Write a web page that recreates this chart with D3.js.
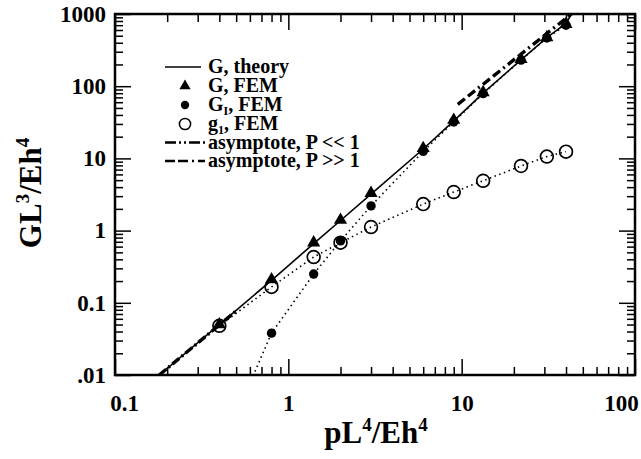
<!DOCTYPE html>
<meta charset="utf-8">
<html>
<head>
<style>
  body { margin: 0; background: #fff; }
  svg text { font-family: 'Liberation Serif', 'Times New Roman', serif; font-weight: bold; fill: #000; }
  .axis path.domain { display: none; }
  .axis line { stroke: #000; stroke-width: 1.5px; }
  .axis text { font-size: 23px; }
  .dotted { fill: none; stroke: #000; stroke-width: 1.6px; stroke-dasharray: 1.5 3.5; }
</style>
</head>
<body>
<svg width="641" height="459"></svg>
<script src="https://cdn.jsdelivr.net/npm/d3@7"></script>
<script>

// values
var pFEM   = [0.4, 0.8, 1.4, 2, 3, 6, 9, 13.3, 22, 31, 40];
var gFEM   = [0.05, 0.21, 0.68, 1.4, 3.3, 13.8, 34, 82, 236, 475, 725];
var gIFEM  = [0.0008, 0.038, 0.25, 0.72, 2.2, 12.5, 32, 79, 230, 465, 700];
var g1FEM  = [0.048, 0.166, 0.43, 0.68, 1.12, 2.33, 3.42, 4.9, 7.85, 10.6, 12.4];

var pTheory = [0.18, 0.4, 0.8, 1.4, 2, 3, 6, 9, 13.3, 22, 31, 40, 43];
var gTheory = [0.01, 0.05, 0.205, 0.66, 1.38, 3.2, 13.5, 33, 80, 232, 470, 740, 1000];

var pLow  = [0.18, 0.5];
var gLow  = [0.01, 0.077];
var pHigh = [9.5, 43];
var gHigh = [56, 1000];

var xMajor = [0.1, 1, 10, 100];
var xLabels = ["0.1", "1", "10", "100"];
var yMajor = [0.01, 0.1, 1, 10, 100, 1000];
var yLabels = [".01", "0.1", "1", "10", "100", "1000"];

var svg = d3.select("svg");
var mLeft = 115, mRight = 635, mTop = 14, mBottom = 375;

var x = d3.scaleLog().domain([0.1, 100]).range([mLeft, mRight]);
var y = d3.scaleLog().domain([0.01, 1000]).range([mBottom, mTop]);

function minors(major) {
  var out = [];
  for (var i = 0; i < major.length - 1; i++)
    for (var k = 2; k <= 9; k++) out.push(major[i] * k);
  return out;
}

// ticks, all pointing inward
function addAxis(axisFn, scale, transform, vals, size) {
  var a = axisFn(scale).tickValues(vals).tickSize(-size).tickFormat("");
  return svg.append("g").attr("class", "axis").attr("transform", transform).call(a);
}

addAxis(d3.axisBottom, x, "translate(0," + mBottom + ")", minors(xMajor), 8);
addAxis(d3.axisTop, x, "translate(0," + mTop + ")", minors(xMajor), 8);
addAxis(d3.axisLeft, y, "translate(" + mLeft + ",0)", minors(yMajor), 8);
addAxis(d3.axisRight, y, "translate(" + mRight + ",0)", minors(yMajor), 8);
addAxis(d3.axisTop, x, "translate(0," + mTop + ")", xMajor, 16);
addAxis(d3.axisRight, y, "translate(" + mRight + ",0)", yMajor, 16);

var xAx = svg.append("g").attr("class", "axis").attr("transform", "translate(0," + mBottom + ")")
  .call(d3.axisBottom(x).tickValues(xMajor).tickSize(-16).tickPadding(20)
    .tickFormat(function(d, i) { return xLabels[i]; }));
xAx.selectAll("text").attr("dx", function(d, i) { return i == 0 ? 9 : (i == 3 ? -14 : 0); });

svg.append("g").attr("class", "axis").attr("transform", "translate(" + mLeft + ",0)")
  .call(d3.axisLeft(y).tickValues(yMajor).tickSize(-16).tickPadding(9)
    .tickFormat(function(d, i) { return yLabels[i]; }));

svg.append("clipPath").attr("id", "plot")
  .append("rect").attr("x", mLeft).attr("y", mTop).attr("width", mRight - mLeft).attr("height", mBottom - mTop);

var g = svg.append("g").attr("clip-path", "url(#plot)");

var line = d3.line().x(function(d) { return x(d[0]); }).y(function(d) { return y(d[1]); });
function pairs(a, b) { return a.map(function(v, i) { return [v, b[i]]; }); }

g.append("path").datum(pairs(pFEM, gIFEM)).attr("class", "dotted").attr("d", line);
g.append("path").datum(pairs(pFEM, g1FEM)).attr("class", "dotted").attr("d", line);

g.append("path").datum(pairs(pTheory, gTheory)).attr("d", line)
  .attr("fill", "none").attr("stroke", "#000").attr("stroke-width", 1.6);

g.append("path").datum(pairs(pLow, gLow)).attr("d", line)
  .attr("fill", "none").attr("stroke", "#000").attr("stroke-width", 3.4)
  .attr("stroke-dasharray", "9,3,2,3");
g.append("path").datum(pairs(pHigh, gHigh)).attr("d", line)
  .attr("fill", "none").attr("stroke", "#000").attr("stroke-width", 3.4)
  .attr("stroke-dasharray", "9,4,9,4,2,4");

// markers
g.selectAll(".tri").data(pairs(pFEM, gFEM)).enter().append("path")
  .attr("d", d3.symbol(d3.symbolTriangle, 75))
  .attr("transform", function(d) { return "translate(" + x(d[0]) + "," + y(d[1]) + ")"; });

g.selectAll(".open").data(pairs(pFEM, g1FEM)).enter().append("circle")
  .attr("cx", function(d) { return x(d[0]); })
  .attr("cy", function(d) { return y(d[1]); })
  .attr("r", 6.4).attr("fill", "none").attr("stroke", "#000").attr("stroke-width", 1.7);

g.selectAll(".dot").data(pairs(pFEM, gIFEM)).enter().append("circle")
  .attr("cx", function(d) { return x(d[0]); })
  .attr("cy", function(d) { return y(d[1]); })
  .attr("r", 4.7).attr("fill", "#000");

// frame
svg.append("rect").attr("x", mLeft).attr("y", mTop).attr("width", mRight - mLeft).attr("height", mBottom - mTop)
  .attr("fill", "none").attr("stroke", "#000").attr("stroke-width", 2.5);

// legend
var lg = svg.append("g").attr("transform", "translate(165,0)");
var rows = [73, 92, 111, 130, 148.5, 167];
lg.append("line").attr("x1", 0).attr("x2", 36).attr("y1", rows[0] - 6).attr("y2", rows[0] - 6)
  .attr("stroke", "#000").attr("stroke-width", 1.4);
lg.append("path").attr("d", d3.symbol(d3.symbolTriangle, 55))
  .attr("transform", "translate(20," + (rows[1] - 6) + ")");
lg.append("circle").attr("cx", 20).attr("cy", rows[2] - 6).attr("r", 4.2).attr("fill", "#000");
lg.append("circle").attr("cx", 20).attr("cy", rows[3] - 6).attr("r", 5.6)
  .attr("fill", "none").attr("stroke", "#000").attr("stroke-width", 1.5);
lg.append("line").attr("x1", 0).attr("x2", 40).attr("y1", rows[4] - 6).attr("y2", rows[4] - 6)
  .attr("stroke", "#000").attr("stroke-width", 2.6).attr("stroke-dasharray", "11,3,2,3,2,3");
lg.append("line").attr("x1", 0).attr("x2", 40).attr("y1", rows[5] - 6).attr("y2", rows[5] - 6)
  .attr("stroke", "#000").attr("stroke-width", 2.6).attr("stroke-dasharray", "10,3,10,4,2,4");

function legendText(row, parts) {
  var t = lg.append("text").attr("x", 43).attr("y", rows[row]).attr("font-size", 20);
  parts.forEach(function(p) {
    var s = t.append("tspan").text(p[0]);
    if (p[1] == "sub") s.attr("font-size", 12).attr("dy", 4);
    else if (p[1] == "back") s.attr("dy", -4);
  });
}
legendText(0, [["G, theory"]]);
legendText(1, [["G, FEM"]]);
legendText(2, [["G"], ["I", "sub"], [", FEM", "back"]]);
legendText(3, [["g"], ["1", "sub"], [", FEM", "back"]]);
legendText(4, [["asymptote, P << 1"]]);
legendText(5, [["asymptote, P >> 1"]]);

// axis titles
var xt = svg.append("text").attr("x", 376).attr("y", 443).attr("text-anchor", "middle").attr("font-size", 31);
xt.append("tspan").text("pL");
xt.append("tspan").text("4").attr("font-size", 19).attr("dy", -12);
xt.append("tspan").text("/Eh").attr("dy", 12);
xt.append("tspan").text("4").attr("font-size", 19).attr("dy", -12);

var yt = svg.append("text").attr("transform", "translate(41,193) rotate(-90)")
  .attr("text-anchor", "middle").attr("font-size", 31);
yt.append("tspan").text("GL");
yt.append("tspan").text("3").attr("font-size", 19).attr("dy", -12);
yt.append("tspan").text("/Eh").attr("dy", 12);
yt.append("tspan").text("4").attr("font-size", 19).attr("dy", -12);

</script>
</body>
</html>
